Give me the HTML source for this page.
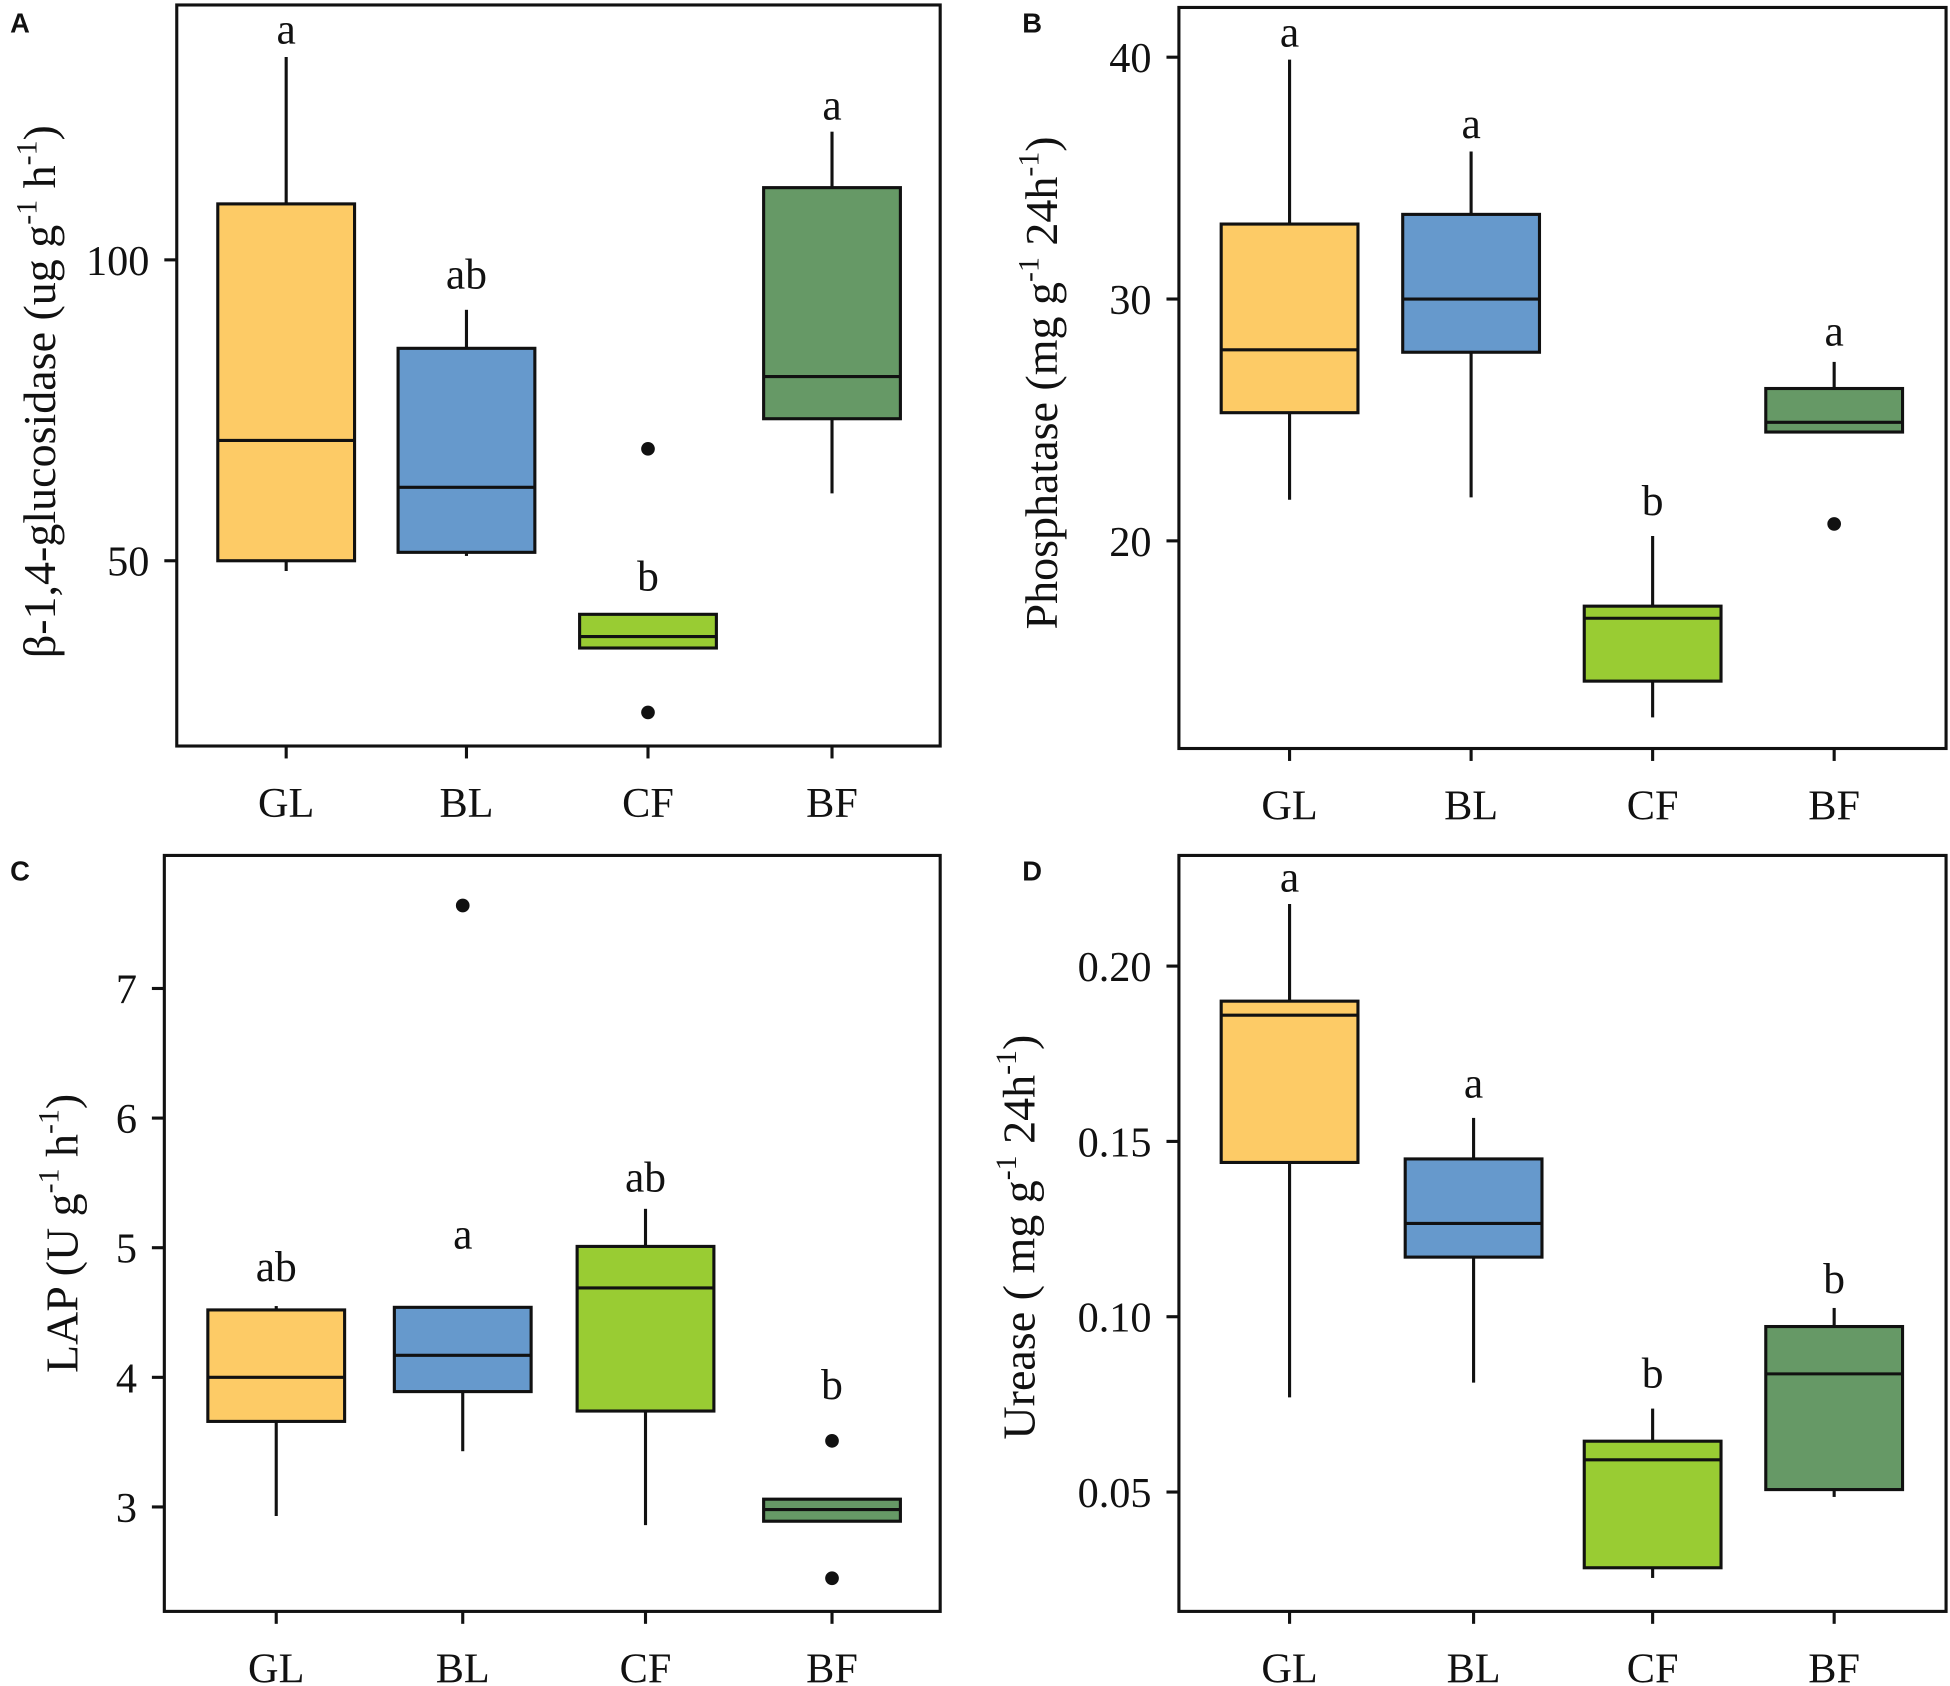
<!DOCTYPE html>
<html><head><meta charset="utf-8"><style>
html,body{margin:0;padding:0;background:#fff;}
svg{display:block;}
text{font-family:"Liberation Serif",serif;fill:#111;}
.pl{font-family:"Liberation Sans",sans-serif;font-weight:bold;font-size:22px;}
</style></head><body>
<svg id="chart" width="1950" height="1686" viewBox="0 0 1568 1356" xmlns="http://www.w3.org/2000/svg"></svg>
<script>
const categories = ["GL","BL","CF","BF"];
const colors = ["#FDCB66","#6699CC","#99CC33","#669966"];
// panel A: [whiskerLow, Q1, median, Q3, whiskerHigh]
const statsA = [[48.3,50,70,109.3,133.7],[50.8,51.4,62.2,85.3,91.7],[35.5,35.5,37.4,41.1,41.1],[61.2,73.6,80.6,112,121.3]];
const outliersA = [[],[],[68.6,24.8],[]];
const lettersA = ["a","ab","b","a"];
const letterPosA = [138,97.3,47.1,125.4];
const ticksA = [50,100];
const statsB = [[21.7,25.3,27.9,33.1,39.9],[21.8,27.8,30,33.5,36.1],[12.7,14.2,16.8,17.3,20.2],[24.5,24.5,24.9,26.3,27.4]];
const outliersB = [[],[],[],[20.7]];
const lettersB = ["a","a","b","a"];
const letterPosB = [40.95,37.17,21.59,28.59];
const ticksB = [20,30,40];
const statsC = [[2.93,3.66,4.0,4.52,4.55],[3.43,3.89,4.17,4.54,4.54],[2.86,3.74,4.69,5.01,5.30],[2.89,2.89,2.98,3.06,3.06]];
const outliersC = [[],[7.64],[],[3.51,2.45]];
const lettersC = ["ab","a","ab","b"];
const letterPosC = [4.84,5.09,5.53,3.93];
const ticksC = [3,4,5,6,7];
const statsD = [[0.077,0.144,0.186,0.190,0.2177],[0.0812,0.117,0.1266,0.145,0.1567],[0.0255,0.0284,0.0592,0.0645,0.0738],[0.0486,0.0507,0.0837,0.0972,0.1025]];
const outliersD = [[],[],[],[]];
const lettersD = ["a","a","b","b"];
const letterPosD = [0.2248,0.1660,0.0833,0.1103];
const ticksD = [0.05,0.10,0.15,0.20];
const tickLabelsD = ["0.05","0.10","0.15","0.20"];

const NS="http://www.w3.org/2000/svg";
const svg=document.getElementById('chart');
function el(tag,attrs,parent){const e=document.createElementNS(NS,tag);for(const k in attrs)e.setAttribute(k,attrs[k]);(parent||svg).appendChild(e);return e;}

function panel(cfg){
  const g=el('g',{});
  
  
  const y=v=>cfg.y0+(v-cfg.v0)*(cfg.y1-cfg.y0)/(cfg.v1-cfg.v0);
  const pl=el('text',{x:cfg.px,y:cfg.py,class:'pl'},g);pl.textContent=cfg.id;
  
  
  const fr=el('rect',{x:cfg.L,y:cfg.T,width:cfg.R-cfg.L,height:cfg.B-cfg.T,fill:'none',stroke:'#111','stroke-width':2.5},g);
  
  
  cfg.ticks.forEach((t,i)=>{
    const yy=y(t);
    const tl=el('line',{x1:cfg.L-10,x2:cfg.L,y1:yy,y2:yy,stroke:'#111','stroke-width':2.5},g);
    
    
    const tx=el('text',{x:cfg.L-22,y:yy+12,'text-anchor':'end','font-size':34},g);
    tx.textContent=cfg.tickLabels?cfg.tickLabels[i]:String(t);
    
    
  });
  categories.forEach((c,i)=>{
    const cx=cfg.xs[i];
    const tl=el('line',{x1:cx,x2:cx,y1:cfg.B,y2:cfg.B+10,stroke:'#111','stroke-width':2.5},g);
    
    
    const tx=el('text',{x:cx,y:cfg.B+57,'text-anchor':'middle','font-size':34},g);
    tx.textContent=c;
    
    
    const s=cfg.stats[i];const hw=55;
    const bg=el('g',{},g);
    
    
    el('line',{x1:cx,x2:cx,y1:y(s[0]),y2:y(s[1]),stroke:'#111','stroke-width':2.5},bg);
    el('line',{x1:cx,x2:cx,y1:y(s[3]),y2:y(s[4]),stroke:'#111','stroke-width':2.5},bg);
    el('rect',{x:cx-hw,y:y(s[3]),width:hw*2,height:Math.max(1,y(s[1])-y(s[3])),fill:colors[i],stroke:'#111','stroke-width':2.5},bg);
    el('line',{x1:cx-hw,x2:cx+hw,y1:y(s[2]),y2:y(s[2]),stroke:'#111','stroke-width':2.5},bg);
    cfg.out[i].forEach(o=>{
      const d=el('circle',{cx:cx,cy:y(o),r:5.5,fill:'#111'},g);
      
      
    });
    const lt=el('text',{x:cx,y:y(cfg.lpos[i])+10,'text-anchor':'middle','font-size':35},g);
    lt.textContent=cfg.letters[i];
    
    
  });
  const yl=el('text',{transform:`translate(${cfg.lx},${cfg.ly}) rotate(-90)`,'text-anchor':'middle','font-size':37},g);
  yl.innerHTML=cfg.label;
  
  
}
const sup='<tspan dy="-15" font-size="24">-1</tspan><tspan dy="15">';
panel({id:'A',px:8,py:26,L:142,R:756,T:4,B:600,y0:451,v0:50,y1:209,v1:100,xs:[230,375,521,669],
  stats:statsA,out:outliersA,letters:lettersA,lpos:letterPosA,ticks:ticksA,lx:44,ly:315,
  label:'β-1,4-glucosidase (ug g'+sup+' h</tspan>'+sup+')</tspan>'});
panel({id:'B',px:822,py:26,L:948,R:1565,T:6,B:602,y0:435,v0:20,y1:46,v1:40,xs:[1037,1183,1329,1475],
  stats:statsB,out:outliersB,letters:lettersB,lpos:letterPosB,ticks:ticksB,lx:850,ly:308,
  label:'Phosphatase (mg g'+sup+' 24h</tspan>'+sup+')</tspan>'});
panel({id:'C',px:8,py:708,L:132,R:756,T:688,B:1296,y0:1212,v0:3,y1:795,v1:7,xs:[222,372,519,669],
  stats:statsC,out:outliersC,letters:lettersC,lpos:letterPosC,ticks:ticksC,lx:62,ly:992,
  label:'LAP (U g'+sup+' h</tspan>'+sup+')</tspan>'});
panel({id:'D',px:822,py:708,L:948,R:1565,T:688,B:1296,y0:1200,v0:0.05,y1:777,v1:0.20,xs:[1037,1185,1329,1475],
  stats:statsD,out:outliersD,letters:lettersD,lpos:letterPosD,ticks:ticksD,tickLabels:tickLabelsD,lx:832,ly:995,
  label:'Urease ( mg g'+sup+' 24h</tspan>'+sup+')</tspan>'});
</script>
</body></html>
